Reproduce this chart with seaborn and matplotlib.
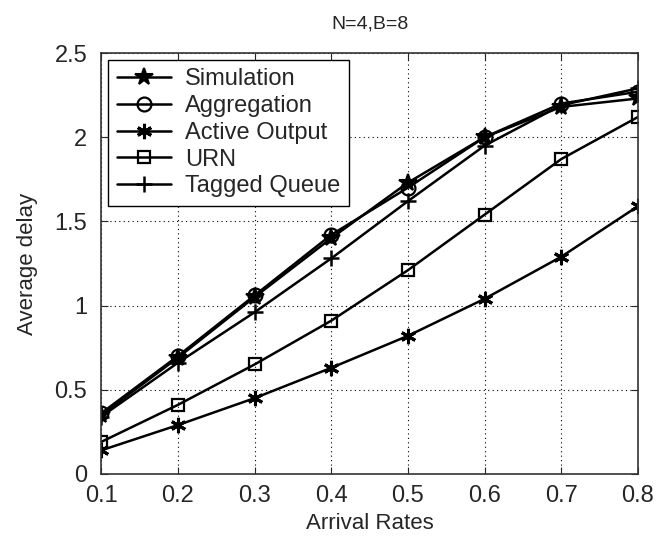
import matplotlib
matplotlib.use('Agg')
import matplotlib.pyplot as plt
import seaborn as sns
import pandas as pd

arrival_rates = [0.1, 0.2, 0.3, 0.4, 0.5, 0.6, 0.7, 0.8]
simulation = [0.35, 0.69, 1.05, 1.40, 1.73, 2.00, 2.18, 2.23]
aggregation = [0.36, 0.70, 1.06, 1.42, 1.70, 2.00, 2.20, 2.27]
active_output = [0.14, 0.29, 0.45, 0.63, 0.82, 1.04, 1.29, 1.59]
urn = [0.19, 0.41, 0.65, 0.91, 1.21, 1.54, 1.87, 2.12]
tagged_queue = [0.34, 0.66, 0.96, 1.28, 1.62, 1.95, 2.19, 2.29]

series = {
    'Simulation': simulation,
    'Aggregation': aggregation,
    'Active Output': active_output,
    'URN': urn,
    'Tagged Queue': tagged_queue,
}
markers = {
    'Simulation': '*',
    'Aggregation': 'o',
    'Active Output': (6, 2, 0),
    'URN': 's',
    'Tagged Queue': '+',
}
sizes = {'Simulation': 13, 'Aggregation': 10, 'Active Output': 11,
         'URN': 8, 'Tagged Queue': 12}
edge_w = {'Simulation': 1.5, 'Aggregation': 1.6, 'Active Output': 2.2,
          'URN': 1.6, 'Tagged Queue': 1.8}

sns.set_style('ticks')
plt.rcParams['font.family'] = ['Liberation Sans', 'DejaVu Sans']

fig = plt.figure(figsize=(6.57, 5.41), dpi=100)
ax = fig.add_axes([0.154, 0.124, 0.817, 0.778])

for name, vals in series.items():
    df = pd.DataFrame({'x': arrival_rates, 'y': vals})
    sns.lineplot(data=df, x='x', y='y', ax=ax, color='black', lw=1.8,
                 marker=markers[name], markersize=sizes[name],
                 markerfacecolor='none' if name in ('Aggregation', 'URN') else 'black',
                 markeredgecolor='black', markeredgewidth=edge_w[name], label=name)

ax.set_xlim(0.1, 0.8)
ax.set_ylim(0, 2.5)
ax.set_xticks(arrival_rates)
ax.set_xticklabels([str(v) for v in arrival_rates])
ax.set_yticks([0, 0.5, 1, 1.5, 2, 2.5])
ax.set_yticklabels(['0', '0.5', '1', '1.5', '2', '2.5'])
ax.grid(True, linestyle=(0, (1, 3)), color='black', lw=0.8)
ax.tick_params(labelsize=17, direction='in', length=5, top=True, right=True)
ax.tick_params(axis='x', pad=8)
ax.tick_params(axis='y', pad=10)
for s in ax.spines.values():
    s.set_color('#333333')
    s.set_linewidth(1.2)
ax.set_xlabel('Arrival Rates', fontsize=16, labelpad=4)
ax.set_ylabel('Average delay', fontsize=16, labelpad=12)
ax.set_title('N=4,B=8', fontsize=14, pad=18)

leg = ax.legend(loc='upper left', fontsize=17, frameon=True, fancybox=False,
                edgecolor='black', framealpha=1, borderpad=0.35,
                labelspacing=0.2, handlelength=2.3, handletextpad=0.6,
                borderaxespad=0.3)
leg.get_frame().set_linewidth(1.0)

fig.savefig('out.png', dpi=100)
